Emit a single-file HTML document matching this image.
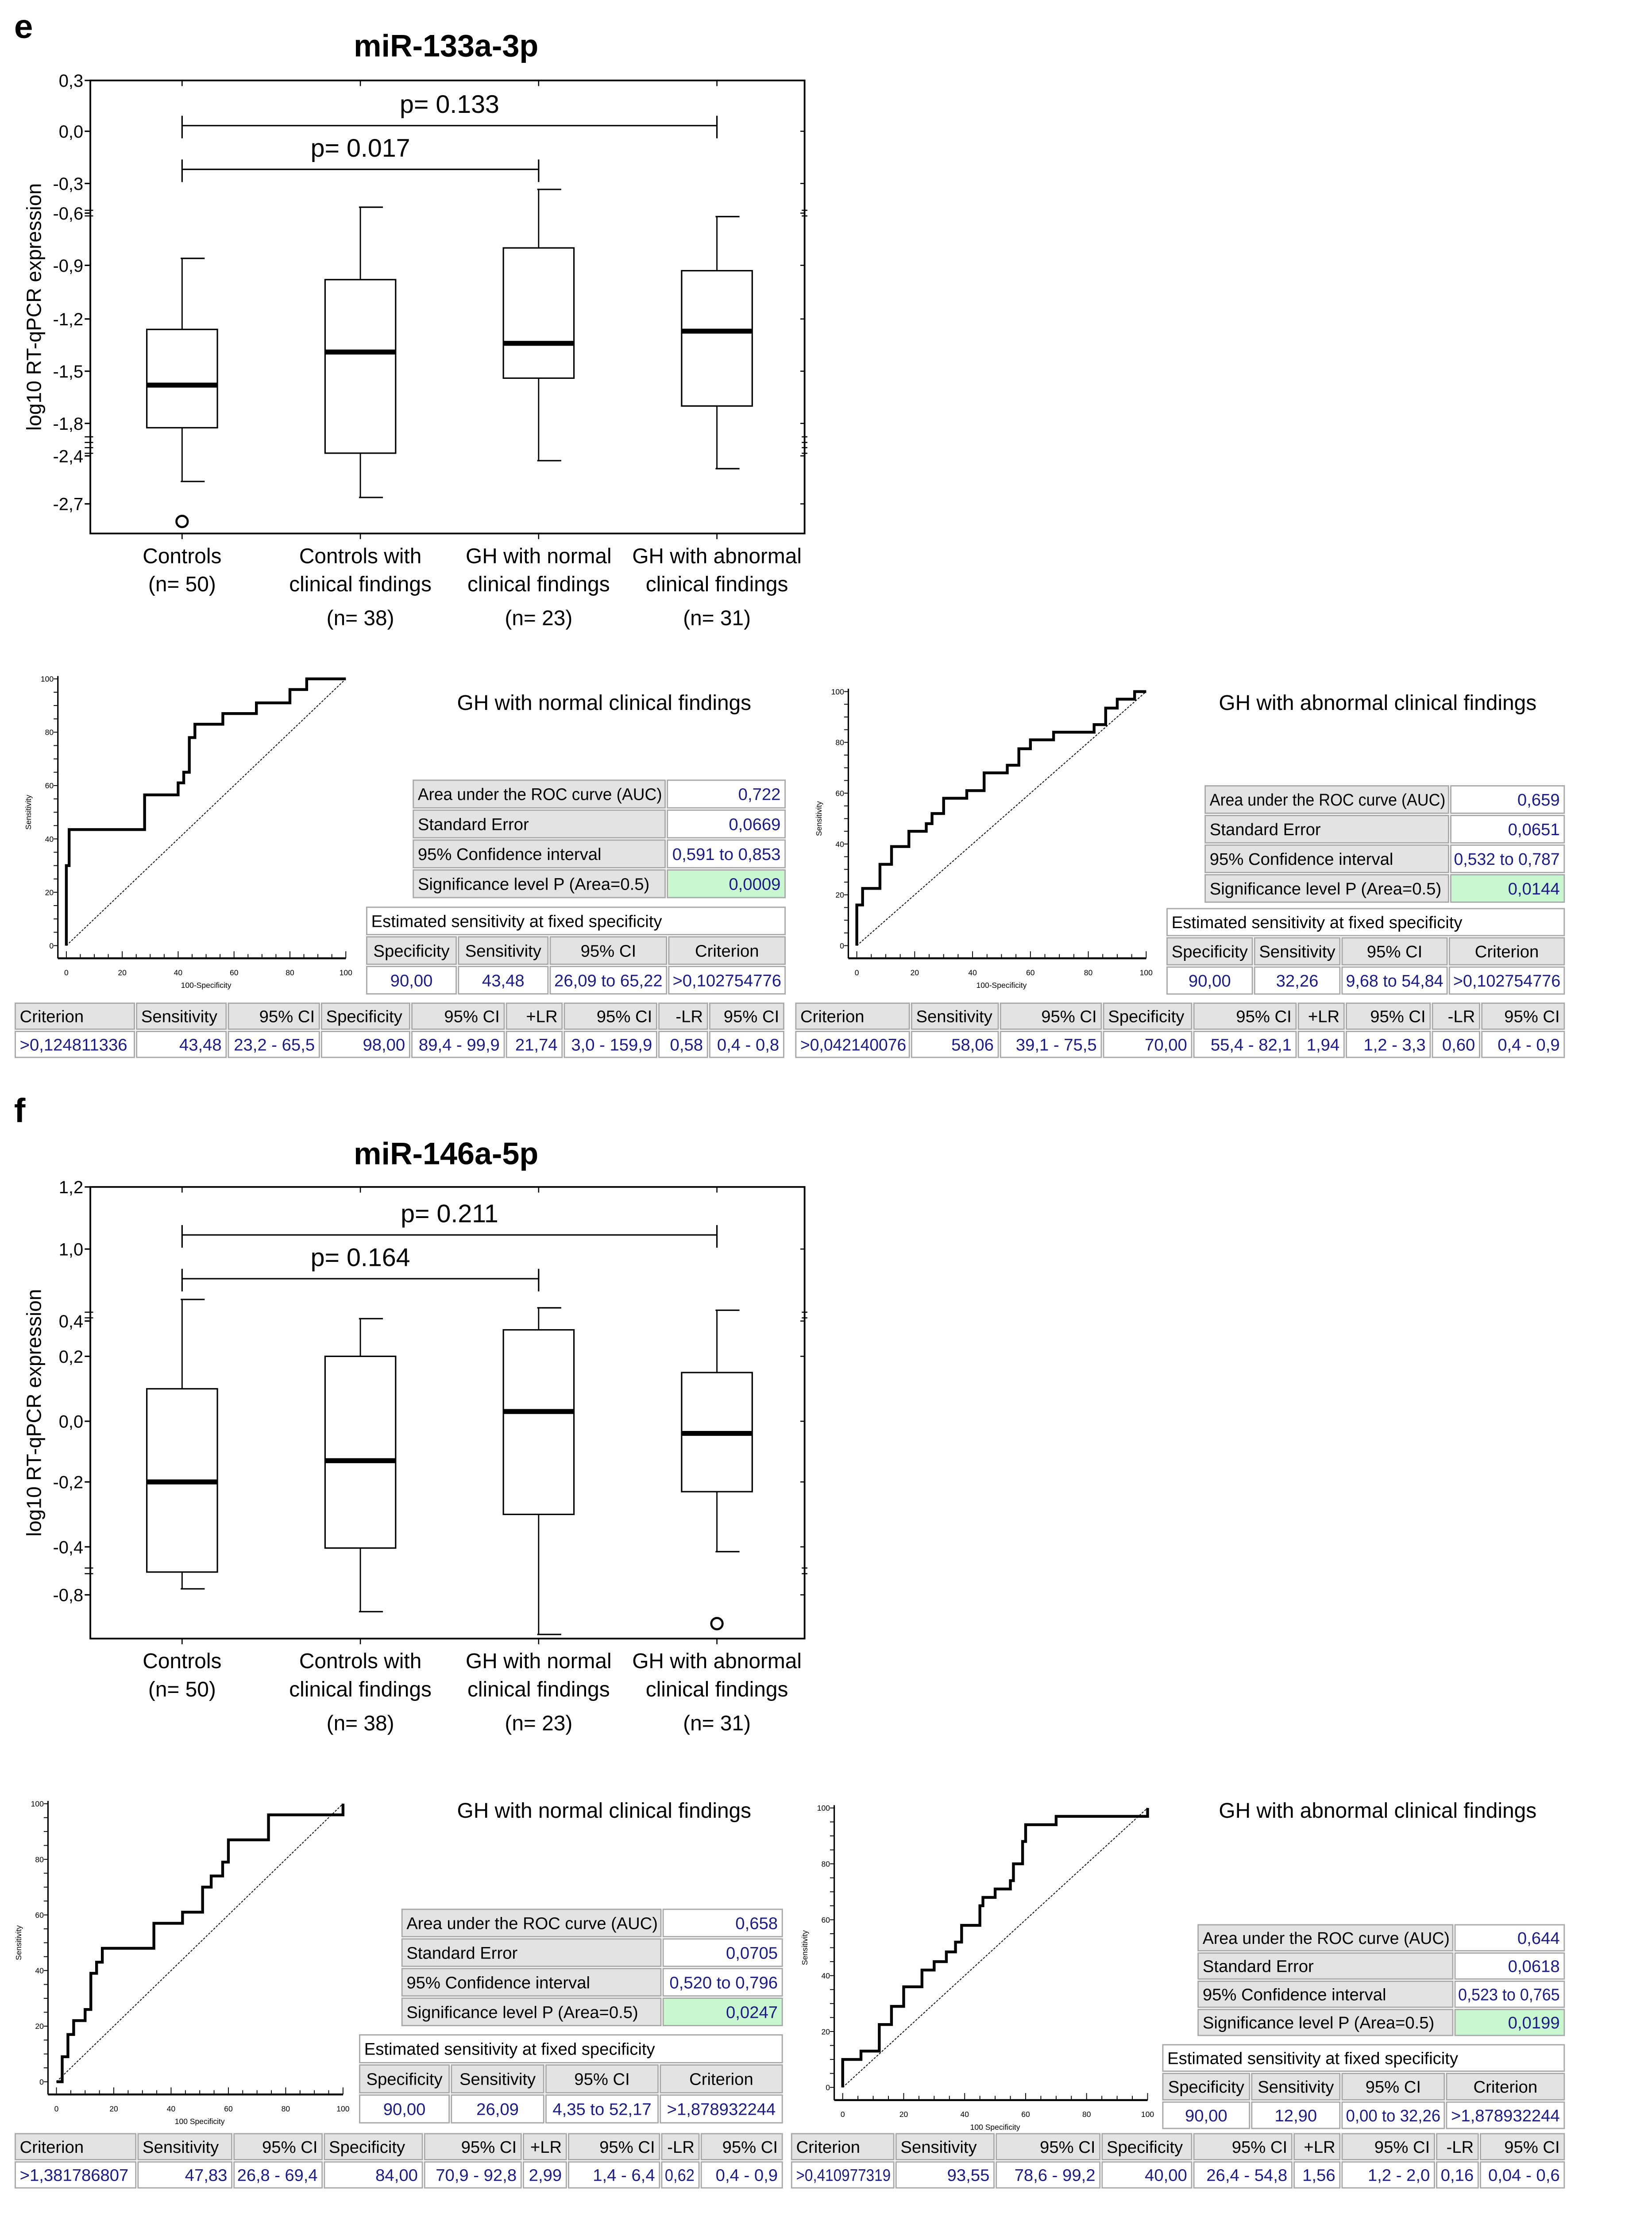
<!DOCTYPE html>
<html><head><meta charset="utf-8">
<style>
html,body{margin:0;padding:0;background:#fff;width:3732px;height:5236px;overflow:hidden;}
svg{display:block;width:3732px;height:5236px;}
text{font-family:"Liberation Sans Narrow","Liberation Sans",sans-serif;}
</style></head>
<body>
<svg id="fig" xmlns="http://www.w3.org/2000/svg" width="3732" height="5236" viewBox="0 0 1170 1642" preserveAspectRatio="xMinYMin meet"></svg>
<script>
// ---------- DATA ----------
const groupLabels1 = ['Controls','Controls with','GH with normal','GH with abnormal'];
const groupLabels2 = ['(n= 50)','clinical findings','clinical findings','clinical findings'];
const groupLabels3 = ['','(n= 38)','(n= 23)','(n= 31)'];

const eTickVals = [0.3,0.0,-0.3,-0.6,-0.9,-1.2,-1.5,-1.8,-2.4,-2.7];
const eTickLabels = ['0,3','0,0','-0,3','-0,6','-0,9','-1,2','-1,5','-1,8','-2,4','-2,7'];
const eMax = [-0.86,-0.54,-0.36,-0.62];
const eQ3  = [-1.26,-0.98,-0.80,-0.93];
const eMed = [-1.58,-1.39,-1.34,-1.27];
const eQ1  = [-1.88,-2.35,-1.54,-1.70];
const eMin = [-2.56,-2.66,-2.43,-2.48];
const eOut = [[-2.81],[],[],[]];
const ePvals = ['p= 0.133','p= 0.017'];

const fTickVals = [1.2,1.0,0.4,0.2,0.0,-0.2,-0.4,-0.8];
const fTickLabels = ['1,2','1,0','0,4','0,2','0,0','-0,2','-0,4','-0,8'];
const fMax = [0.58,0.42,0.51,0.49];
const fQ3  = [0.10,0.20,0.35,0.15];
const fMed = [-0.20,-0.13,0.03,-0.04];
const fQ1  = [-0.61,-0.41,-0.30,-0.23];
const fMin = [-0.75,-0.94,-1.13,-0.44];
const fOut = [[],[],[],[-1.04]];
const fPvals = ['p= 0.211','p= 0.164'];

const rocTicks = [0,20,40,60,80,100];
const rocE1x = [0,0,1,1,28,28,40,40,42,42,44,44,46,46,56,56,68,68,80,80,86,86,100];
const rocE1y = [0,30,30,43.5,43.5,56.5,56.5,61,61,65,65,78,78,83,83,87,87,91,91,96,96,100,100];
const rocE2x = [0,0,2,2,8,8,12,12,18,18,24,24,26,26,30,30,38,38,44,44,52,52,56,56,60,60,68,68,82,82,86,86,90,90,96,96,100];
const rocE2y = [0,16,16,22.5,22.5,32,32,39,39,45,45,48,48,52,52,58,58,61,61,68,68,71,71,77.5,77.5,81,81,84,84,87,87,93.5,93.5,97,97,100,100];
const rocF1x = [0,2,2,4,4,6,6,10,10,12,12,14,14,16,16,34,34,44,44,51,51,54,54,58,58,60,60,74,74,100,100];
const rocF1y = [0,0,9,9,17,17,22,22,26,26,39,39,43,43,48,48,57,57,61,61,70,70,74,74,79,79,87,87,96,96,100];
const rocF2x = [0,0,6,6,12,12,16,16,20,20,26,26,30,30,34,34,37,37,39,39,45,45,46,46,50,50,55,55,56,56,59,59,60,60,70,70,100,100];
const rocF2y = [0,10,10,13,13,22.5,22.5,29,29,36,36,42,42,45,45,48.5,48.5,52,52,58,58,65,65,68,68,71,71,74,74,80,80,88,88,94,94,97,97,100];

const aucLabels = ['Area under the ROC curve (AUC)','Standard Error','95% Confidence interval','Significance level P (Area=0.5)'];
const aucE1 = ['0,722','0,0669','0,591 to 0,853','0,0009'];
const aucE2 = ['0,659','0,0651','0,532 to 0,787','0,0144'];
const aucF1 = ['0,658','0,0705','0,520 to 0,796','0,0247'];
const aucF2 = ['0,644','0,0618','0,523 to 0,765','0,0199'];

const estHead = ['Specificity','Sensitivity','95% CI','Criterion'];
const estE1 = ['90,00','43,48','26,09 to 65,22','>0,102754776'];
const estE2 = ['90,00','32,26','9,68 to 54,84','>0,102754776'];
const estF1 = ['90,00','26,09','4,35 to 52,17','>1,878932244'];
const estF2 = ['90,00','12,90','0,00 to 32,26','>1,878932244'];

const critHead = ['Criterion','Sensitivity','95% CI','Specificity','95% CI','+LR','95% CI','-LR','95% CI'];
const critE1 = ['>0,124811336','43,48','23,2 - 65,5','98,00','89,4 - 99,9','21,74','3,0 - 159,9','0,58','0,4 - 0,8'];
const critE2 = ['>0,042140076','58,06','39,1 - 75,5','70,00','55,4 - 82,1','1,94','1,2 - 3,3','0,60','0,4 - 0,9'];
const critF1 = ['>1,381786807','47,83','26,8 - 69,4','84,00','70,9 - 92,8','2,99','1,4 - 6,4','0,62','0,4 - 0,9'];
const critF2 = ['>0,410977319','93,55','78,6 - 99,2','40,00','26,4 - 54,8','1,56','1,2 - 2,0','0,16','0,04 - 0,6'];

// ---------- HELPERS ----------
const NS = 'http://www.w3.org/2000/svg';
const svg = document.getElementById('fig');
function mk(tag, attrs, name, parent) {
  const el = document.createElementNS(NS, tag);
  for (const k in attrs) el.setAttribute(k, attrs[k]);
  
  
  (parent || svg).appendChild(el);
  return el;
}
function txt(x, y, s, size, name, opt) {
  opt = opt || {};
  const el = mk('text', {x: x, y: y, 'font-size': size, fill: opt.fill || '#000',
    'text-anchor': opt.anchor || 'start', 'font-weight': opt.weight || 'normal'}, name, opt.parent);
  if (opt.family) el.setAttribute('style', 'font-family:' + opt.family);
  if (opt.rotate) el.setAttribute('transform', 'rotate(' + opt.rotate + ' ' + x + ' ' + y + ')');
  el.textContent = s;
  return el;
}
function line(x1, y1, x2, y2, w, name, extra, parent) {
  const a = {x1: x1, y1: y1, x2: x2, y2: y2, stroke: '#000', 'stroke-width': w};
  for (const k in (extra || {})) a[k] = extra[k];
  return mk('line', a, name, parent);
}
const SANS = '"Liberation Sans",sans-serif';

// ---------- BOX PLOT ----------
function boxPlot(cfg) {
  const g = mk('g', {}, cfg.name);
  const L = 64, R = 570, T = cfg.top, B = cfg.bottom;
  function sy(v) {
    const bv = cfg.bv, bp = cfg.bp;
    if (v >= bv[0]) return bp[0] - (v - bv[0]) * (bp[1] - bp[0]) / (bv[0] - bv[1]);
    for (let i = 0; i < bv.length - 1; i++) {
      if (v <= bv[i] && v >= bv[i + 1]) return bp[i] + (bv[i] - v) / (bv[i] - bv[i + 1]) * (bp[i + 1] - bp[i]);
    }
    const n = bv.length - 1;
    return bp[n] + (bv[n] - v) * (bp[n] - bp[n - 1]) / (bv[n - 1] - bv[n]);
  }
  const cx = i => 129 + i * 126.3;
  txt(10, cfg.letterY, cfg.letter, 24, 'panel-letter', {weight: 'bold', family: SANS, parent: g});
  txt(316, cfg.titleY, cfg.title, 22, 'chart-title', {weight: 'bold', anchor: 'middle', family: SANS, parent: g});
  mk('rect', {x: L, y: T, width: R - L, height: B - T, fill: 'none', stroke: '#000', 'stroke-width': 1.2}, 'plot-frame', g);
  txt(29, (T + B) / 2, 'log10 RT-qPCR expression', 14.5, 'y-axis-title', {anchor: 'middle', rotate: -90, family: SANS, parent: g});
  cfg.ticks.forEach((v, i) => {
    const y = sy(v);
    line(L - 4, y, L, y, 1, 'y-tick', {}, g);
    line(R - 3, y, R, y, 0.8, 'y-tick-right', {}, g);
    txt(L - 5, y + 4.5, cfg.tickLabels[i], 12.5, 'y-tick-label', {anchor: 'end', family: SANS, parent: g});
  });
  cfg.breaks.forEach(v => {
    const y = sy(v);
    line(L - 4, y - 2, L + 2, y - 2, 0.8, 'axis-break', {}, g);
    line(L - 4, y + 2, L + 2, y + 2, 0.8, 'axis-break', {}, g);
    line(R - 2, y - 2, R + 2, y - 2, 0.8, 'axis-break-right', {}, g);
    line(R - 2, y + 2, R + 2, y + 2, 0.8, 'axis-break-right', {}, g);
  });
  for (let i = 0; i < 4; i++) {
    const x = cx(i);
    line(x, T, x, T + 4, 0.8, 'x-tick-top', {}, g);
    line(x, B, x, B + 4, 0.8, 'x-tick', {}, g);
    const bg = mk('g', {}, 'box-' + (i + 1), g);
    line(x, sy(cfg.max[i]), x, sy(cfg.q3[i]), 0.9, 'whisker-upper', {}, bg);
    line(x, sy(cfg.q1[i]), x, sy(cfg.min[i]), 0.9, 'whisker-lower', {}, bg);
    line(x - 1, sy(cfg.max[i]), x + 16, sy(cfg.max[i]), 1, 'whisker-cap-upper', {}, bg);
    line(x - 1, sy(cfg.min[i]), x + 16, sy(cfg.min[i]), 1, 'whisker-cap-lower', {}, bg);
    mk('rect', {x: x - 25, y: sy(cfg.q3[i]), width: 50, height: sy(cfg.q1[i]) - sy(cfg.q3[i]), fill: 'none', stroke: '#000', 'stroke-width': 1}, 'iqr-box', bg);
    line(x - 25, sy(cfg.med[i]), x + 25, sy(cfg.med[i]), 3.5, 'median-line', {}, bg);
    cfg.out[i].forEach(v => mk('circle', {cx: x, cy: sy(v), r: 4, fill: '#fff', stroke: '#000', 'stroke-width': 1.5}, 'outlier', bg));
    txt(x, B + 21, groupLabels1[i], 15, 'x-label', {anchor: 'middle', parent: g});
    txt(x, B + 41, groupLabels2[i], 15, 'x-label', {anchor: 'middle', parent: g});
    if (groupLabels3[i]) txt(x, B + 65, groupLabels3[i], 15, 'x-label-n', {anchor: 'middle', parent: g});
  }
  [[cx(0), cx(3), cfg.br1], [cx(0), cx(2), cfg.br2]].forEach((b, k) => {
    line(b[0], b[2], b[1], b[2], 1, 'significance-bracket', {}, g);
    line(b[0], b[2] - 7, b[0], b[2] + 9, 1, 'bracket-end', {}, g);
    line(b[1], b[2] - 7, b[1], b[2] + 9, 1, 'bracket-end', {}, g);
    txt((b[0] + b[1]) / 2, b[2] - 9, cfg.pv[k], 18, 'p-value-label', {anchor: 'middle', parent: g});
  });
}
boxPlot({name: 'boxplot-mir-133a-3p', letter: 'e', letterY: 27, title: 'miR-133a-3p', titleY: 40, top: 57, bottom: 378,
  bv: [0.3, 0.0, -0.3, -0.6, -0.9, -1.2, -1.5, -1.8, -2.4, -2.7], bp: [57, 93, 130, 151, 188, 226, 263, 300, 323, 357],
  ticks: eTickVals, tickLabels: eTickLabels, breaks: [-0.6, -2.1, -2.3], max: eMax, q3: eQ3, med: eMed, q1: eQ1, min: eMin, out: eOut,
  br1: 89, br2: 120, pv: ePvals});
boxPlot({name: 'boxplot-mir-146a-5p', letter: 'f', letterY: 795, title: 'miR-146a-5p', titleY: 825, top: 841, bottom: 1161,
  bv: [1.2, 1.0, 0.4, 0.2, 0.0, -0.2, -0.4, -0.8], bp: [841, 885, 936, 961, 1007, 1050, 1096, 1130],
  ticks: fTickVals, tickLabels: fTickLabels, breaks: [0.45, -0.6], max: fMax, q3: fQ3, med: fMed, q1: fQ1, min: fMin, out: fOut,
  br1: 875, br2: 906, pv: fPvals});

// ---------- ROC ----------
function roc(cfg) {
  const g = mk('g', {}, cfg.name);
  const sx = v => cfg.x0 + v / 100 * (cfg.x100 - cfg.x0);
  const sy = v => cfg.y0 - v / 100 * (cfg.y0 - cfg.y100);
  const ax = cfg.x0 - 6, ay = cfg.y0 + 9;
  line(ax, cfg.y100 - 2, ax, ay, 1, 'roc-y-axis', {}, g);
  line(ax, ay, cfg.x100, ay, 1.4, 'roc-x-axis', {}, g);
  for (let v = 0; v <= 100; v += 5) {
    line(ax - 3, sy(v), ax, sy(v), 0.6, 'roc-y-minor-tick', {}, g);
    line(sx(v), ay, sx(v), ay - (v % 20 ? 3 : 5), 0.6, 'roc-x-tick', {}, g);
  }
  rocTicks.forEach(v => {
    txt(ax - 3, sy(v) + 2, String(v), 5.5, 'roc-y-tick-label', {anchor: 'end', parent: g});
    txt(sx(v), ay + 12, String(v), 5.5, 'roc-x-tick-label', {anchor: 'middle', parent: g});
  });
  txt(cfg.x0 - 25, (cfg.y0 + cfg.y100) / 2, 'Sensitivity', 5.5, 'roc-y-axis-title', {anchor: 'middle', rotate: -90, parent: g});
  txt((cfg.x0 + cfg.x100) / 2, ay + 21, cfg.xTitle, 5.5, 'roc-x-axis-title', {anchor: 'middle', parent: g});
  line(sx(0), sy(0), sx(100), sy(100), 0.6, 'reference-diagonal', {'stroke-dasharray': '1.5 1'}, g);
  let d = '';
  cfg.xs.forEach((v, i) => { d += (i ? 'L' : 'M') + sx(v).toFixed(2) + ' ' + sy(cfg.ys[i]).toFixed(2); });
  mk('path', {d: d, fill: 'none', stroke: '#000', 'stroke-width': 2}, 'roc-curve', g);
  txt(cfg.tx, cfg.ty, cfg.title, 15, 'roc-title', {anchor: 'middle', parent: g});
}
roc({name: 'roc-e-normal', x0: 47, x100: 245, y0: 670, y100: 481, xs: rocE1x, ys: rocE1y, xTitle: '100-Specificity', title: 'GH with normal clinical findings', tx: 428, ty: 503});
roc({name: 'roc-e-abnormal', x0: 607, x100: 812, y0: 670, y100: 490, xs: rocE2x, ys: rocE2y, xTitle: '100-Specificity', title: 'GH with abnormal clinical findings', tx: 976, ty: 503});
roc({name: 'roc-f-normal', x0: 40, x100: 243, y0: 1475, y100: 1278, xs: rocF1x, ys: rocF1y, xTitle: '100 Specificity', title: 'GH with normal clinical findings', tx: 428, ty: 1288});
roc({name: 'roc-f-abnormal', x0: 597, x100: 813, y0: 1479, y100: 1281, xs: rocF2x, ys: rocF2y, xTitle: '100 Specificity', title: 'GH with abnormal clinical findings', tx: 976, ty: 1288});

// ---------- TABLES ----------
const NAVY = '#1c1c88', GREY = '#e3e3e3', GREEN = '#c8f7d0';
function cell(g, x, y, w, h, fill, s, align, color, name) {
  mk('rect', {x: x + 0.8, y: y + 0.8, width: w - 1.6, height: h - 1.6, fill: fill, stroke: '#a8a8a8', 'stroke-width': 0.9}, name + '-bg', g);
  if (s === '') return;
  const tx = align === 'left' ? x + 4 : align === 'right' ? x + w - 4 : x + w / 2;
  const el = txt(tx, y + h / 2 + 4.3, s, 12, name, {anchor: align === 'left' ? 'start' : align === 'right' ? 'end' : 'middle', fill: color, parent: g});
  let len = 0;
  try { len = el.getComputedTextLength(); } catch (e) {}
  const maxW = w - 7;
  if (len > maxW) {
    el.setAttribute('textLength', maxW);
    el.setAttribute('lengthAdjust', 'spacingAndGlyphs');
  }
}
function aucTable(name, x, split, x2, y, rh, vals) {
  const g = mk('g', {}, name);
  aucLabels.forEach((lab, i) => {
    cell(g, x, y + i * rh, split - x, rh, GREY, lab, 'left', '#000', 'auc-label');
    cell(g, split, y + i * rh, x2 - split, rh, i === 3 ? GREEN : '#fff', vals[i], 'right', NAVY, 'auc-value');
  });
}
function estTable(name, cols, y, rh, vals) {
  const g = mk('g', {}, name);
  cell(g, cols[0], y, cols[4] - cols[0], rh, '#fff', 'Estimated sensitivity at fixed specificity', 'left', '#000', 'est-title');
  for (let i = 0; i < 4; i++) {
    cell(g, cols[i], y + rh, cols[i + 1] - cols[i], rh, GREY, estHead[i], 'center', '#000', 'est-header');
    cell(g, cols[i], y + 2 * rh, cols[i + 1] - cols[i], rh, '#fff', vals[i], 'center', NAVY, 'est-value');
  }
}
function critTable(name, cols, y, rh, vals) {
  const g = mk('g', {}, name);
  for (let i = 0; i < 9; i++) {
    const w = cols[i + 1] - cols[i];
    cell(g, cols[i], y, w, rh, GREY, critHead[i], i === 0 || i === 1 || i === 3 ? 'left' : 'right', '#000', 'criterion-header');
    cell(g, cols[i], y + rh, w, rh, '#fff', vals[i], i === 0 ? 'left' : 'right', NAVY, 'criterion-value');
  }
}
aucTable('auc-table-e-normal', 292, 472, 557, 552, 21.2, aucE1);
aucTable('auc-table-e-abnormal', 853, 1027, 1109, 556, 21, aucE2);
aucTable('auc-table-f-normal', 284, 469, 555, 1352, 21, aucF1);
aucTable('auc-table-f-abnormal', 848, 1030, 1109, 1363, 20, aucF2);
estTable('est-table-e-normal', [259, 324, 389, 473, 557], 642, 21, estE1);
estTable('est-table-e-abnormal', [826, 888, 950, 1026, 1109], 643, 20.7, estE2);
estTable('est-table-f-normal', [254, 319, 386, 467, 555], 1441, 21.3, estF1);
estTable('est-table-f-abnormal', [823, 886, 950, 1024, 1109], 1448, 20.3, estF2);
critTable('criterion-table-e-normal', [10, 96, 161, 227, 291, 358, 399, 466, 502, 556], 710, 20, critE1);
critTable('criterion-table-e-abnormal', [563, 645, 708, 781, 845, 919, 953, 1014, 1049, 1109], 710, 20, critE2);
critTable('criterion-table-f-normal', [10, 97, 165, 229, 300, 370, 402, 468, 496, 555], 1511, 20, critF1);
critTable('criterion-table-f-abnormal', [560, 634, 705, 780, 845, 916, 950, 1017, 1048, 1109], 1511, 20, critF2);
</script>
</body></html>
